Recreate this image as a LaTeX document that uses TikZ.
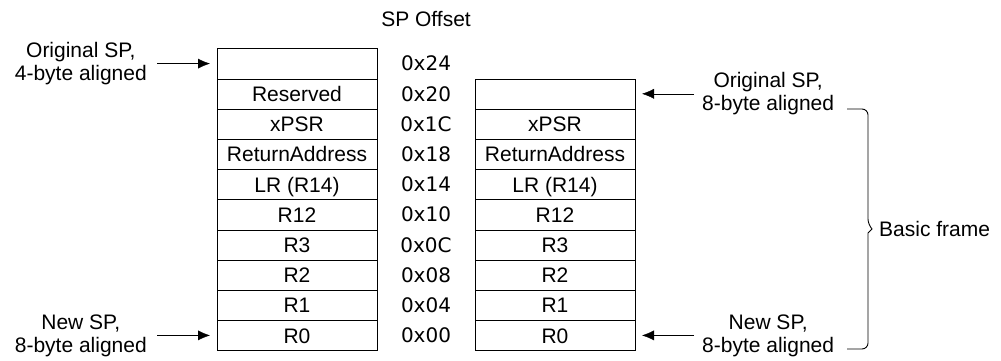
\documentclass[tikz,border=0pt]{standalone}
\usepackage{fontspec}
\setmainfont{Liberation Sans}
\newfontfamily\hexfont{DejaVu Sans}
\usetikzlibrary{arrows.meta, calc, positioning}
\tikzset{
    x=1pt, y=1pt, node distance=0pt, line width=1.1pt,% rows of a stack touch each other
    cell/.style={rectangle, draw, outer sep=0pt, inner sep=0pt, minimum width=160pt, minimum height=30.2pt, text height=15.2pt, text depth=0pt, font=\fontsize{21}{23}\selectfont}, % one word of the stack
    ofs/.style={inner sep=0pt, text height=14.6pt, text depth=0pt, font=\hexfont\fontsize{20}{23}\selectfont},
    lbl/.style={inner sep=0pt, align=center, font=\fontsize{21}{23}\selectfont},
    ptr/.style={-{Latex[length=12pt, width=10pt]}, shorten >=7pt}
}
\begin{document}
\begin{tikzpicture}
    \useasboundingbox (0,0) rectangle (1001,360);
    % stack with 4-byte aligned SP
    \node[cell] (l0) at (297,296.4) {};
    \node[cell] (l1) [below=of l0] {Reserved};
    \node[cell] (l2) [below=of l1] {xPSR};
    \node[cell] (l3) [below=of l2] {ReturnAddress};
    \node[cell] (l4) [below=of l3] {LR (R14)};
    \node[cell] (l5) [below=of l4] {R12};
    \node[cell] (l6) [below=of l5] {R3};
    \node[cell] (l7) [below=of l6] {R2};
    \node[cell] (l8) [below=of l7] {R1};
    \node[cell] (l9) [below=of l8] {R0};
    % offsets
    \node[ofs] (h0) at ($(l0.east)+(49,0)$) {0x24};
    \node[ofs] (h1) at ($(l1.east)+(49,0)$) {0x20};
    \node[ofs] (h2) at ($(l2.east)+(49,0)$) {0x1C};
    \node[ofs] (h3) at ($(l3.east)+(49,0)$) {0x18};
    \node[ofs] (h4) at ($(l4.east)+(49,0)$) {0x14};
    \node[ofs] (h5) at ($(l5.east)+(49,0)$) {0x10};
    \node[ofs] (h6) at ($(l6.east)+(49,0)$) {0x0C};
    \node[ofs] (h7) at ($(l7.east)+(49,0)$) {0x08};
    \node[ofs] (h8) at ($(l8.east)+(49,0)$) {0x04};
    \node[ofs] (h9) at ($(l9.east)+(49,0)$) {0x00};
    \node[lbl] (spoff) [above=29pt of h0] {SP Offset};
    % stack with 8-byte aligned SP
    \node[cell] (r1) [right=98pt of l1] {};
    \node[cell] (r2) [below=of r1] {xPSR};
    \node[cell] (r3) [below=of r2] {ReturnAddress};
    \node[cell] (r4) [below=of r3] {LR (R14)};
    \node[cell] (r5) [below=of r4] {R12};
    \node[cell] (r6) [below=of r5] {R3};
    \node[cell] (r7) [below=of r6] {R2};
    \node[cell] (r8) [below=of r7] {R1};
    \node[cell] (r9) [below=of r8] {R0};
    % stack pointers
    \node[lbl] (origA) [left=70pt of l0] {Original SP,\\4-byte aligned};
    \node[lbl] (newA) [left=70pt of l9] {New SP,\\8-byte aligned};
    \node[lbl] (origB) [right=67pt of r1] {Original SP,\\8-byte aligned};
    \node[lbl] (newB) [right=67pt of r9] {New SP,\\8-byte aligned};
    \draw[ptr, shorten <=10pt] (origA) -- (l0);
    \draw[ptr, shorten <=10pt] (newA) -- (l9);
    \draw[ptr, shorten <=8pt] (origB) -- (r1);
    \draw[ptr, shorten <=8pt] (newB) -- (r9);
    % brace of the basic frame
    \coordinate (braceTop) at (847,251);
    \coordinate (braceBot) at (847,11);
    \coordinate (braceTip) at (872,131);
    \draw[line width=0.9pt, rounded corners=6pt] (braceTop) -| ($(braceTip)+(-4,4)$) [sharp corners] -- (braceTip) -- ($(braceTip)+(-4,-4)$) [rounded corners=6pt] |- (braceBot);
    \node[lbl] (basic) [right=7pt of braceTip] {Basic frame};
\end{tikzpicture}
\end{document}
